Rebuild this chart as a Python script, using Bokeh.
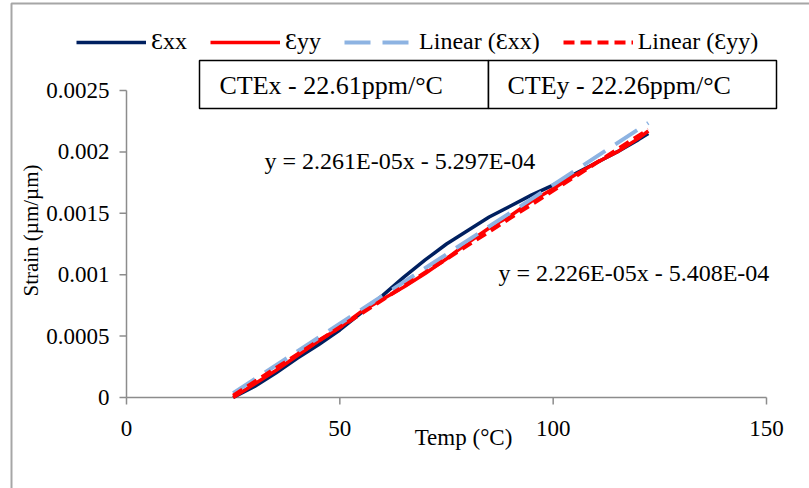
import math
from bokeh.plotting import figure
from bokeh.models import Label, Legend, LegendItem, BoxAnnotation
from bokeh.core.properties import value
from bokeh.embed import file_html
from bokeh.resources import INLINE

# ---- data ----
temp = [25, 30, 35, 40, 45, 50, 55, 60, 65, 70, 75, 80, 85, 90, 95, 100, 105, 110, 115, 120, 122.3]
strain_xx = [0.0, 0.00009, 0.0002, 0.00032, 0.00043, 0.00055, 0.00069, 0.00083, 0.00098, 0.00112,
             0.00125, 0.00136, 0.00147, 0.00156, 0.00165, 0.00173, 0.00182, 0.00191, 0.00200, 0.00210, 0.00215]
strain_yy = [0.0, 0.00011, 0.00022, 0.00034, 0.00046, 0.00057, 0.0007, 0.0008, 0.0009, 0.00101,
             0.00113, 0.00126, 0.00138, 0.00148, 0.00160, 0.00170, 0.00181, 0.00191, 0.00200, 0.00211, 0.00217]
trend_temp = [25, 122.3]
trend_xx = [0.0000356, 0.002236]
trend_yy = [0.0000157, 0.002182]
x_ticks = [0, 50, 100, 150]
y_ticks = [0, 0.0005, 0.001, 0.0015, 0.002, 0.0025]
x_tick_labels = ["0", "50", "100", "150"]
y_tick_labels = ["0", "0.0005", "0.001", "0.0015", "0.002", "0.0025"]
series_names = ["Ɛxx", "Ɛyy", "Linear (Ɛxx)", "Linear (Ɛyy)"]
eq_xx = "y = 2.261E-05x - 5.297E-04"
eq_yy = "y = 2.226E-05x - 5.408E-04"
cte_x = "CTEx - 22.61ppm/°C"
cte_y = "CTEy - 22.26ppm/°C"
x_title = "Temp (°C)"
y_title = "Strain (µm/µm)"

FONT = "Liberation Serif"
W, H = 809, 488
# plot-area placement (pixels) of the axis extents
AX_L, AX_R, AX_T, AX_B = 126, 766, 90, 397
X_MIN, X_MAX, Y_MIN, Y_MAX = x_ticks[0], x_ticks[-1], y_ticks[0], y_ticks[-1]
kx = (AX_R - AX_L) / (X_MAX - X_MIN)
ky = (AX_B - AX_T) / (Y_MAX - Y_MIN)
x_start = X_MIN - AX_L / kx
x_end = X_MIN + (W - AX_L) / kx
y_start = Y_MIN - (H - AX_B) / ky
y_end = Y_MIN + AX_B / ky

def px(sx, sy):
    """screen pixel -> data coordinates"""
    return X_MIN + (sx - AX_L) / kx, Y_MIN + (AX_B - sy) / ky

p = figure(width=W, height=H, x_range=(x_start, x_end), y_range=(y_start, y_end),
           output_backend="svg", toolbar_location=None, title=None,
           x_axis_location=None, y_axis_location=None, min_border=0)
p.xgrid.visible = False
p.ygrid.visible = False
p.outline_line_color = None
p.background_fill_color = "white"
p.border_fill_color = "white"

AXC = "#8c8c8c"
TICK = 7
# ---- axes drawn through the data scales ----
p.line([X_MIN, X_MAX], [Y_MIN, Y_MIN], line_color=AXC, line_width=1.5)
p.line([X_MIN, X_MIN], [Y_MIN, Y_MAX], line_color=AXC, line_width=1.5)
p.segment(x0=x_ticks, y0=[Y_MIN] * len(x_ticks), x1=x_ticks, y1=[Y_MIN - TICK / ky] * len(x_ticks),
          line_color=AXC, line_width=1.5)
p.segment(x0=[X_MIN] * len(y_ticks), y0=y_ticks, x1=[X_MIN - TICK / kx] * len(y_ticks), y1=y_ticks,
          line_color=AXC, line_width=1.5)
p.text(x=x_ticks, y=[Y_MIN - 31 / ky] * len(x_ticks), text=x_tick_labels,
       text_font=value(FONT), text_font_size=value("23px"), text_color="black",
       text_align="center", text_baseline="middle")
p.text(x=[X_MIN - 17 / kx] * len(y_ticks), y=y_ticks, text=y_tick_labels,
       text_font=value(FONT), text_font_size=value("23px"), text_color="black",
       text_align="right", text_baseline="middle")

# ---- series ----
r1 = p.line(temp, strain_xx, line_color="#002060", line_width=3.5, line_join="round")
r2 = p.line(temp, strain_yy, line_color="#ff0000", line_width=3.5, line_join="round")
r3 = p.line(trend_temp, trend_xx, line_color="#8db3e2", line_width=4, line_dash="26 12")
r4 = p.line(trend_temp, trend_yy, line_color="#ff0000", line_width=4, line_dash="11 6")

legend = Legend(items=[LegendItem(label=n, renderers=[r]) for n, r in zip(series_names, [r1, r2, r3, r4])],
                orientation="horizontal", location=(76, H - 55), padding=0, margin=0, spacing=23,
                glyph_width=70, glyph_height=20, label_height=20, label_standoff=5,
                label_text_font=FONT, label_text_font_size="24px", label_text_color="black",
                border_line_color=None, background_fill_alpha=0)
p.add_layout(legend)

# outer chart border (its top-left corner is what shows)
bl, bt = px(11, 3)
p.add_layout(BoxAnnotation(left=bl, top=bt, right=x_end + 50, bottom=y_start - 0.01,
                           fill_alpha=0, line_color="#a6a6a6", line_alpha=1, line_width=2))

# CTE boxes
for left, right in ((199, 488), (488, 776)):
    l, t = px(left, 60)
    r, b = px(right, 108)
    p.add_layout(BoxAnnotation(left=l, right=r, top=t, bottom=b, fill_color="white", fill_alpha=1,
                               line_color="black", line_alpha=1, line_width=1.5))
for left, txt in ((219, cte_x), (507, cte_y)):
    tx, ty = px(left, 85)
    p.add_layout(Label(x=tx, y=ty, text=txt, text_font=FONT, text_font_size="26px", text_color="black",
                       text_align="left", text_baseline="middle"))

# trendline equations
ex, ey = px(264, 160)
p.add_layout(Label(x=ex, y=ey, text=eq_xx, text_font=FONT, text_font_size="24px", text_color="black",
                   text_align="left", text_baseline="middle"))
ex, ey = px(498, 272)
p.add_layout(Label(x=ex, y=ey, text=eq_yy, text_font=FONT, text_font_size="24px", text_color="black",
                   text_align="left", text_baseline="middle"))

# axis titles
tx, ty = px(463, 437)
p.add_layout(Label(x=tx, y=ty, text=x_title, text_font=FONT, text_font_size="23px", text_color="black",
                   text_align="center", text_baseline="middle"))
tx, ty = px(30, 230)
p.add_layout(Label(x=tx, y=ty, text=y_title, text_font=FONT, text_font_size="21px", text_color="black",
                   text_align="center", text_baseline="middle", angle=math.pi / 2))

open("out.html", "w").write(file_html(p, INLINE))
